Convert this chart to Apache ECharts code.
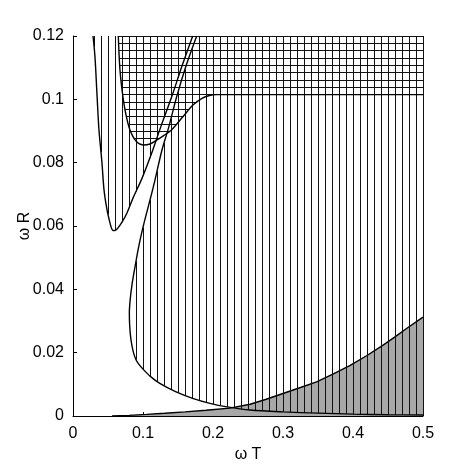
<!DOCTYPE html>
<html><head><meta charset="utf-8">
<script src="https://cdn.jsdelivr.net/npm/echarts@6/dist/echarts.min.js"></script>
<style>html,body{margin:0;padding:0;background:#fff}#c{width:469px;height:469px}</style>
</head><body><div id="c"></div>
<script>
// ---- tick labels ----
const xTickLabels = ['0', '0.1', '0.2', '0.3', '0.4', '0.5'];
const yTickLabels = ['0', '0.02', '0.04', '0.06', '0.08', '0.1', '0.12'];

// ---- boundary curves ([ωT, ωR]) ----
// left U-shaped curve: left branch from top down to minimum, right branch back up to top
const uCurve = [
  [0.0286,0.12],[0.0314,0.1134],[0.0343,0.1014],[0.0371,0.0903],[0.0414,0.0799],
  [0.0443,0.0714],[0.0486,0.0651],[0.0529,0.0609],[0.055,0.0593],[0.0571,0.0586],
  [0.06,0.0586],[0.0643,0.0594],[0.07,0.0612],[0.0771,0.0641],[0.0857,0.0688],
  [0.0981,0.0748],[0.1114,0.0824],[0.1254,0.0913],[0.141,0.1008],[0.1557,0.1105],
  [0.171,0.12]
];
// C-shaped curve: from top, down through the nose, then the tail along the bottom
const cCurve = [
  [0.1767,0.12],[0.1614,0.1105],[0.1481,0.1008],[0.1369,0.0913],[0.1271,0.084],
  [0.1171,0.0745],[0.11,0.0682],[0.1036,0.0628],[0.0981,0.0578],[0.0929,0.0524],
  [0.0886,0.0471],[0.0843,0.0415],[0.0816,0.0365],[0.0805,0.0325],[0.0809,0.0288],
  [0.0822,0.0252],[0.0842,0.0222],[0.0868,0.0197],[0.0902,0.0177],[0.0945,0.0162],
  [0.1,0.0148],[0.11,0.0126],[0.124,0.0103],[0.1457,0.0078],[0.172,0.0055],
  [0.1957,0.004],[0.22,0.0029],[0.253,0.0019],[0.3,0.0013],[0.35,0.0009],
  [0.4,0.0006],[0.45,0.0004],[0.5,0.0003]
];
// lower boundary of the cross-hatched region
const pCurve = [
  [0.0647,0.12],[0.0671,0.1093],[0.0714,0.1007],[0.0757,0.0951],[0.0814,0.0903],
  [0.09,0.0868],[0.1,0.0856],[0.11,0.0859],[0.12,0.0872],[0.13,0.0886],
  [0.1414,0.0905],[0.157,0.0945],[0.1714,0.0982],[0.1843,0.1003],[0.195,0.1012],
  [0.205,0.1015],[0.5,0.1015]
];
// upper boundary of the grey region
const gCurve = [
  [0.0557,0],[0.08,0.0002],[0.105,0.0005],[0.131,0.00085],[0.16,0.0013],[0.19,0.0018],
  [0.224,0.0025],[0.253,0.0037],[0.275,0.0052],[0.3,0.0071],[0.325,0.009],[0.348,0.0108],
  [0.372,0.0133],[0.396,0.016],[0.42,0.0191],[0.443,0.0224],[0.46,0.025],[0.477,0.0277],
  [0.5,0.0312]
];

const xMax = 0.5, yMax = 0.12;
const hatchStepX = 0.01;
const hatchStepY = 0.0023125;

// polygons of hatched regions (closed along the frame)
const polyV1 = uCurve.slice();
const polyV2 = cCurve.concat([[xMax, yMax]]);
const polyH = pCurve.concat([[xMax, yMax]]);

function scan(poly, c, axis) {
  const a = axis, b = 1 - axis, hits = [];
  for (let i = 0; i < poly.length; i++) {
    const p = poly[i], q = poly[(i + 1) % poly.length];
    if ((p[a] <= c && c < q[a]) || (q[a] <= c && c < p[a])) {
      const t = (c - p[a]) / (q[a] - p[a]);
      hits.push(p[b] + t * (q[b] - p[b]));
    }
  }
  hits.sort((m, n) => m - n);
  const segs = [];
  for (let i = 0; i + 1 < hits.length; i += 2) segs.push([hits[i], hits[i + 1]]);
  return segs;
}

const vSegs = [];
for (let k = 1; k <= Math.round(xMax / hatchStepX); k++) {
  const c = k * hatchStepX - 1e-7;
  [polyV1, polyV2].forEach(poly => {
    scan(poly, c, 0).forEach(s => vSegs.push({ coords: [[c, s[0]], [c, s[1]]] }));
  });
}
const hSegs = [];
for (let k = 0; k < 40; k++) {
  const c = yMax - k * hatchStepY - 1e-7;
  if (c < 0.08) break;
  scan(polyH, c, 1).forEach(s => hSegs.push({ coords: [[s[0], c], [s[1], c]] }));
}

const FONT = 'Liberation Sans, Arial, Helvetica, sans-serif';
const chart = echarts.init(document.getElementById('c'), null, { renderer: 'canvas' });
const curveStyle = { color: '#000', width: 1.4 };
chart.setOption({
  animation: false,
  backgroundColor: '#fff',
  grid: { left: 73, right: 46, top: 36, bottom: 53 },
  xAxis: {
    type: 'value', min: 0, max: xMax, interval: 0.1,
    axisLine: { show: true, onZero: false, lineStyle: { color: '#000', width: 1 } },
    axisTick: { show: true, inside: true, length: 4, lineStyle: { color: '#000' } },
    axisLabel: { color: '#000', fontSize: 16, fontFamily: FONT, margin: 10,
      formatter: v => xTickLabels[Math.round(v * 10)] },
    splitLine: { show: false },
    name: 'ω T', nameLocation: 'middle', nameGap: 31, nameMoveOverlap: false,
    nameTextStyle: { color: '#000', fontSize: 16, fontFamily: FONT }
  },
  yAxis: {
    type: 'value', min: 0, max: yMax, interval: 0.02,
    axisLine: { show: true, onZero: false, lineStyle: { color: '#000', width: 1 } },
    axisTick: { show: true, inside: true, length: 4, lineStyle: { color: '#000' } },
    axisLabel: { color: '#000', fontSize: 16, fontFamily: FONT, margin: 9,
      formatter: v => yTickLabels[Math.round(v * 50)] },
    splitLine: { show: false },
    name: 'ω R', nameLocation: 'middle', nameGap: 40, nameRotate: 90, nameMoveOverlap: false,
    nameTextStyle: { color: '#000', fontSize: 16, fontFamily: FONT }
  },
  series: [
    { type: 'line', data: gCurve, showSymbol: false, z: 1, silent: true,
      lineStyle: curveStyle, areaStyle: { color: '#a8a8a8', opacity: 1 } },
    { type: 'lines', coordinateSystem: 'cartesian2d', polyline: false, silent: true, z: 2,
      lineStyle: { color: '#111', width: 1, opacity: 1, curveness: 0 }, data: vSegs },
    { type: 'lines', coordinateSystem: 'cartesian2d', polyline: false, silent: true, z: 2,
      lineStyle: { color: '#111', width: 1, opacity: 1, curveness: 0 }, data: hSegs },
    { type: 'line', data: uCurve, showSymbol: false, z: 3, silent: true, smooth: 0.3, lineStyle: curveStyle },
    { type: 'line', data: cCurve, showSymbol: false, z: 3, silent: true, smooth: 0.3, lineStyle: curveStyle },
    { type: 'line', data: pCurve, showSymbol: false, z: 3, silent: true, smooth: 0.3, lineStyle: curveStyle }
  ]
});
</script>
</body></html>
